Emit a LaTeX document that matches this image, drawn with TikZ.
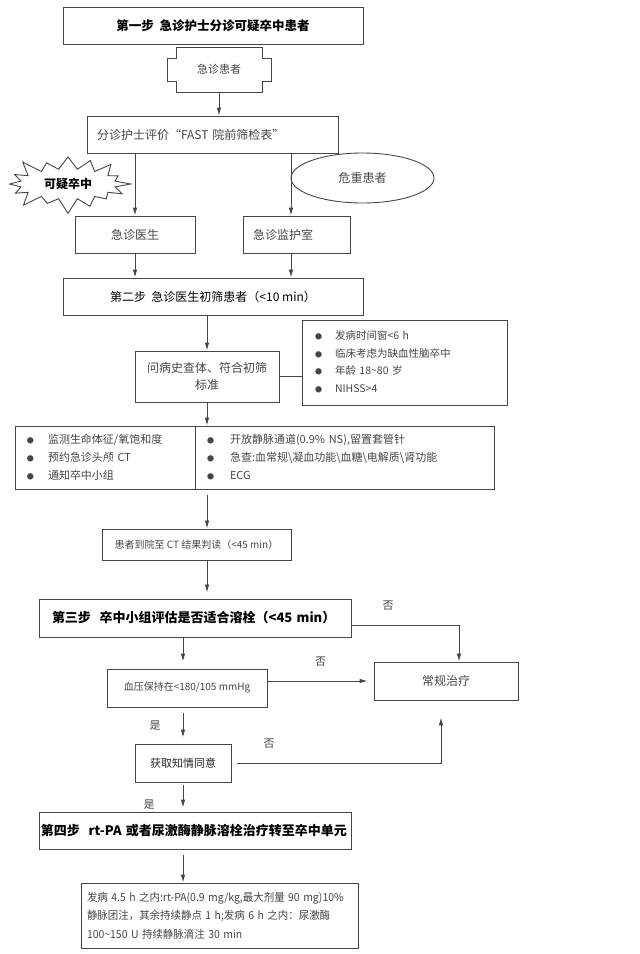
\documentclass[tikz,border=0pt]{standalone}
\usepackage{fontspec}
\usepackage{graphicx}
\setmainfont{Noto Sans CJK SC}
\usetikzlibrary{arrows.meta}
\usetikzlibrary{shapes.geometric,shapes.symbols}

\definecolor{inkgray}{rgb}{0.27,0.27,0.27}
\newcommand{\bul}{{\fontsize{7}{7}\selectfont ●}}
\newcommand{\narrowline}[1]{\scalebox{0.95}[1]{#1}}

\begin{document}
\begin{tikzpicture}[x=1pt, y=-1pt,
    box/.style={draw=inkgray, line width=0.9pt, inner sep=0pt, text=inkgray},
    lbox/.style={box, align=left},
    arr/.style={-{Latex[length=8pt,width=4.5pt]}, line width=0.9pt, draw=inkgray},
    ln/.style={line width=0.9pt, draw=inkgray},
    lbl/.style={text=inkgray, font=\fontsize{11}{11}\selectfont, inner sep=0pt}]

    \useasboundingbox (0,0) rectangle (640,954);

    % Declare the steps and boxes
    \node[box, text=black, font=\bfseries\fontsize{12.5}{14}\selectfont, minimum width=300pt, minimum height=37pt] at (213, 25.5) (step1) {第一步\ \ 急诊护士分诊可疑卒中患者};
    \node[text=inkgray, font=\fontsize{11}{13}\selectfont, inner sep=0pt, minimum width=104pt, minimum height=45pt] at (219, 69.5) (patient) {急诊患者};
    \draw[ln] (176,47) -- (262,47) -- (262,58) -- (271,58) -- (271,81) -- (262,81) -- (262,92) -- (176,92)
        -- (176,81) -- (167,81) -- (167,58) -- (176,58) -- cycle;
    \node[lbox, font=\fontsize{12}{14}\selectfont, minimum height=37pt, text width=231pt, inner xsep=10pt] at (212.5, 134.5) (fast) {分诊护士评价“FAST 院前筛检表”};
    \node[draw=inkgray, line width=0.9pt, starburst, starburst points=16, starburst point height=17pt, minimum width=130pt, minimum height=64pt, inner sep=0pt, font=\bfseries\fontsize{12}{14}\selectfont] at (68, 184) (suspect) {可疑卒中};
    \node[draw=inkgray, line width=0.9pt, ellipse, minimum width=143pt, minimum height=50pt, inner sep=0pt, text=inkgray, font=\fontsize{12}{14}\selectfont] at (362.5, 178) (critical) {危重患者};
    \node[box, font=\fontsize{12}{14}\selectfont, minimum width=120pt, minimum height=37pt] at (135, 234.5) (doctor) {急诊医生};
    \node[lbox, font=\fontsize{12}{14}\selectfont, minimum height=37pt, text width=87pt, inner xsep=10pt] at (296.5, 234.5) (icu) {急诊监护室};
    \node[box, text=black, font=\fontsize{12}{14}\selectfont, minimum width=300pt, minimum height=37pt] at (213, 296.5) (step2) {第二步\ \ 急诊医生初筛患者（<10 min）};
    \node[box, align=center, font=\fontsize{12}{17}\selectfont, minimum width=144pt, minimum height=51pt] at (207, 376.5) (inquiry) {问病史查体、符合初筛\\标准};
    \node[lbox, font=\fontsize{10.5}{17.7}\selectfont, minimum height=85pt, text width=179pt, inner xsep=13pt] at (404.5, 362.5) (criteria) {%
        \begin{tabular}{@{}l@{\hspace{13pt}}l@{}}
        \bul & 发病时间窗<6 h\\
        \bul & 临床考虑为缺血性脑卒中\\
        \bul & 年龄 18\textasciitilde80 岁\\
        \bul & NIHSS>4
        \end{tabular}};
    \node[lbox, font=\fontsize{11}{18}\selectfont, minimum height=63pt, text width=156pt, inner xsep=12pt] at (105, 457.5) (vitals) {%
        \begin{tabular}{@{}l@{\hspace{14pt}}l@{}}
        \bul & 监测生命体征/氧饱和度\\
        \bul & 预约急诊头颅 CT\\
        \bul & 通知卒中小组
        \end{tabular}};
    \node[lbox, font=\fontsize{11}{18}\selectfont, minimum height=63pt, text width=275pt, inner xsep=12pt] at (344.5, 457.5) (labs) {%
        \begin{tabular}{@{}l@{\hspace{16pt}}l@{}}
        \bul & 开放静脉通道(0.9\% NS),留置套管针\\
        \bul & 急查:血常规\textbackslash 凝血功能\textbackslash 血糖\textbackslash 电解质\textbackslash 肾功能\\
        \bul & ECG
        \end{tabular}};
    \node[box, font=\fontsize{10}{12}\selectfont, minimum width=189pt, minimum height=31pt] at (196.5, 544.5) (ct) {患者到院至 CT 结果判读（<45 min）};
    \node[lbox, text=black, font=\bfseries\fontsize{13}{15}\selectfont, minimum height=38pt, text width=300pt, inner xsep=6pt] at (195, 618) (step3) {\hspace{7pt}第三步\ \ 卒中小组评估是否适合溶栓（<45 min）};
    \node[box, font=\fontsize{12}{14}\selectfont, minimum width=144pt, minimum height=38pt] at (446, 681) (routine) {常规治疗};
    \node[box, font=\fontsize{10}{12}\selectfont, minimum width=160pt, minimum height=38pt] at (187, 688) (bp) {血压保持在<180/105 mmHg};
    \node[box, text=black!85, font=\fontsize{11}{13}\selectfont, minimum width=96pt, minimum height=38pt] at (183, 763) (consent) {获取知情同意};
    \node[lbox, text=black, font=\bfseries\fontsize{13}{15}\selectfont, minimum height=37pt, text width=308pt, inner xsep=2pt] at (195, 830.5) (step4) {\mbox{第四步\ \ rt-PA 或者尿激酶静脉溶栓治疗转至卒中单元}};
    \node[lbox, font=\fontsize{11}{18.5}\selectfont, minimum height=65pt, text width=265pt, inner xsep=6pt] at (219.5, 915.5) (final) {%
        \narrowline{发病 4.5 h 之内:rt-PA(0.9 mg/kg,最大剂量 90 mg)10\%}\\
        \narrowline{静脉团注，其余持续静点 1 h;发病 6 h 之内：尿激酶}\\
        \narrowline{100\textasciitilde150 U 持续静脉滴注 30 min}};

    % Declare edges
    \draw[arr] (patient.south) -- (patient.south |- fast.north);
    \draw[arr] (fast.south -| doctor.north) -- (doctor.north);
    \draw[arr] ([xshift=-5.5pt]icu.north |- fast.south) -- ([xshift=-5.5pt]icu.north);
    \draw[arr] (doctor.south) -- (doctor.south |- step2.north);
    \draw[arr] ([xshift=-5.5pt]icu.south) -- ([xshift=-5.5pt]icu.south |- step2.north);
    \draw[arr] (inquiry.north |- step2.south) -- (inquiry.north);
    \draw[ln] (inquiry.east) -- (inquiry.east -| criteria.west);
    \draw[arr] (inquiry.south) -- (inquiry.south |- labs.north);
    \draw[arr, shorten <=6pt] (inquiry.south |- labs.south) -- (inquiry.south |- ct.north);
    \draw[arr, shorten >=6pt] (inquiry.south |- ct.south) -- (inquiry.south |- step3.north);
    \draw[arr, shorten >=7pt] (consent.north |- step3.south) -- (consent.north |- bp.north);
    \draw[arr] ([yshift=-7pt]step3.east) -| ([xshift=13pt]routine.north) node[lbl, pos=0.17, above=14pt] {否};
    \draw[arr, shorten >=6pt] (bp.east |- routine.west) -- (routine.west) node[lbl, midway, above=14pt] {否};
    \draw[arr, shorten <=6pt, shorten >=6pt] (consent.north |- bp.south) -- (consent.north) node[lbl, midway, left=22pt] {是};
    \draw[arr, shorten <=6pt, shorten >=17pt] (consent.east) -| ([xshift=-5pt]routine.south) node[lbl, pos=0.09, above=14pt] {否};
    \draw[arr, shorten <=3pt, shorten >=4pt] (consent.south) -- (consent.south |- step4.north) node[lbl, pos=0.75, left=28pt] {是};
    \draw[arr, shorten <=6pt] (consent.south |- step4.south) -- (consent.south |- final.north);

\end{tikzpicture}
\end{document}
